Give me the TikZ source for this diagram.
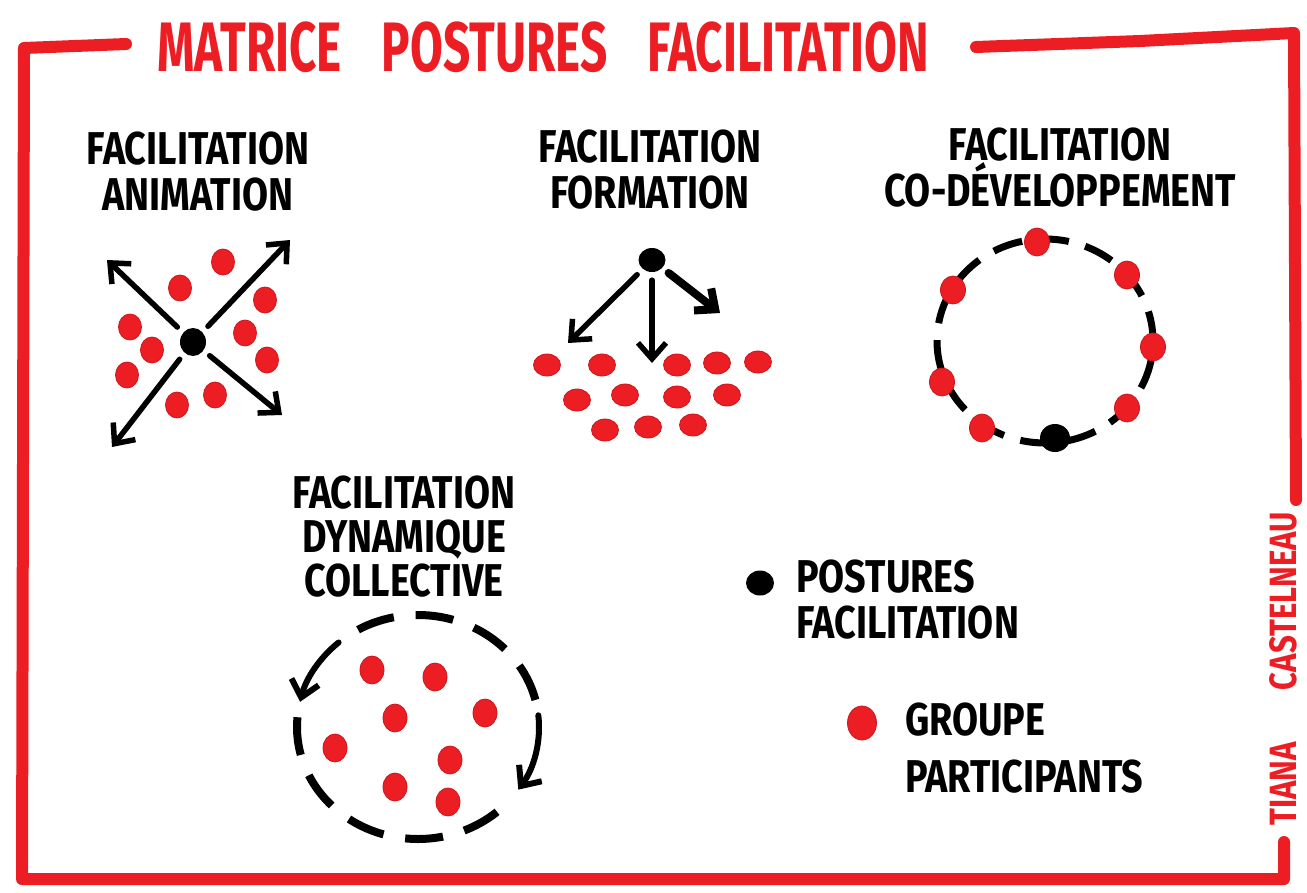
\documentclass[tikz,border=0pt]{standalone}
\usepackage{fontspec}
\usetikzlibrary{arrows.meta,shapes.geometric}

\newfontfamily\handfont{Fira Sans}[FakeStretch=0.82]
\newfontfamily\titlefont{Fira Sans}[FakeStretch=0.68]
\definecolor{marker}{RGB}{236,30,36}

\begin{document}
\begin{tikzpicture}[x=1pt, y=1pt,
		redframe/.style = {draw=marker, line width=12pt, line cap=round, line join=round},
		lbl/.style = {font=\handfont\bfseries\fontsize{46}{46}\selectfont, align=center, inner sep=0pt},
		sig/.style = {font=\handfont\bfseries\fontsize{38}{38}\selectfont, text=marker, inner sep=0pt, rotate=90},
		pst/.style = {ellipse, fill=black, minimum width=26pt, minimum height=28pt, inner sep=0pt},
		grp/.style = {ellipse, fill=marker, draw=marker!85!black, line width=0.8pt, minimum width=23pt, minimum height=26pt, inner sep=0pt},
		arw/.style = {-{Straight Barb[length=16pt, width=28pt]}, line width=5.5pt, line cap=round, shorten <=8pt},
		ring/.style = {line width=7pt, dash pattern=on 30pt off 17pt}
		]
		
		\fill[white] (0,0) rectangle (1307,-892);
		
		%Frame and title
		\draw[redframe]	(126,-44) -- (24,-48) -- (22,-879) -- (1284,-879) -- (1284,-842);
		\draw[redframe]	(976,-47) -- (1140,-41) -- (1294,-33) -- (1296,-500);
		\node[font=\titlefont\bfseries\fontsize{70}{70}\selectfont, text=marker, inner sep=0pt] (title) at (543,-47) {MATRICE\hspace{40pt}POSTURES\hspace{40pt}FACILITATION};
		\node[sig, anchor=west]	(tiana)		at (1283,-826)	{TIANA};
		\node[sig, anchor=east]	(castel)	at (1283,-512)	{CASTELNEAU};
		
		%Labels
		\node[lbl]	(anim)	at (198,-172)	{FACILITATION\\ANIMATION};
		\node[lbl]	(form)	at (650,-170)	{FACILITATION\\FORMATION};
		\node[lbl]	(codev)	at (1060,-168)	{FACILITATION\\CO-DÉVELOPPEMENT};
		\node[lbl, font=\handfont\bfseries\fontsize{46}{44}\selectfont]	(dyn)	at (404,-537)	{FACILITATION\\DYNAMIQUE\\COLLECTIVE};
		
		%Animation
		\node[pst]	(ac)	at (193,-342)	{};
		\coordinate	(at1)	at (107,-260);
		\coordinate	(at2)	at (290,-240);
		\coordinate	(at3)	at (282,-415);
		\coordinate	(at4)	at (112,-447);
		\draw[arw]	(ac) -- (at1);
		\draw[arw]	(ac) -- (at2);
		\draw[arw]	(ac) -- (at3);
		\draw[arw]	(ac) -- (at4);
		\foreach \x/\y [count=\i] in {223/262, 180/288, 265/300, 130/327, 152/350, 245/333, 267/360, 127/375, 215/395, 177/405}
			\node[grp]	(ap\i)	at (\x,-\y)	{};
		
		%Formation
		\node[pst, minimum width=27pt, minimum height=24pt]	(fc)	at (652,-260)	{};
		\coordinate	(ft1)	at (568,-343);
		\coordinate	(ft2)	at (652,-363);
		\coordinate	(ft3)	at (720,-313);
		\draw[arw]	(fc) -- (ft1);
		\draw[arw]	(fc) -- (ft2);
		\draw[arw, line width=8pt]	(fc) -- (ft3);
		\foreach \x/\y [count=\i] in {547/365, 602/365, 677/365, 717/363, 758/362, 577/400, 625/395, 677/397, 727/395, 605/430, 648/427, 693/425}
			\node[grp, minimum width=27pt, minimum height=22pt]	(fp\i)	at (\x,-\y)	{};
		
		%Co-developpement
		\coordinate	(cc)	at (1045,-341);
		\draw[ring]	(cc) ellipse [x radius=108pt, y radius=102pt];
		\foreach \x/\y [count=\i] in {1037/242, 1127/275, 953/290, 1153/347, 942/382, 1127/408, 982/428}
			\node[grp, minimum width=25pt, minimum height=28pt]	(cp\i)	at (\x,-\y)	{};
		\node[pst, minimum width=30pt, minimum height=28pt]	(cf)	at (1055,-438)	{};
		
		%Dynamique collective
		\coordinate	(dc)	at (418,-727);
		\draw[ring, line width=8pt, dash pattern=on 38pt off 22pt]	([shift={(14:121pt and 112pt)}]dc) arc [start angle=14, end angle=124, x radius=121pt, y radius=112pt];
		\draw[ring, line width=8pt, dash pattern=on 38pt off 22pt]	([shift={(175:121pt and 112pt)}]dc) arc [start angle=175, end angle=316, x radius=121pt, y radius=112pt];
		\draw[-{Straight Barb[length=16pt, width=28pt]}, line width=6pt, line cap=round]	([shift={(131:121pt and 112pt)}]dc) arc [start angle=131, end angle=167, x radius=121pt, y radius=112pt];
		\draw[-{Straight Barb[length=16pt, width=28pt]}, line width=6pt, line cap=round]	([shift={(6:121pt and 112pt)}]dc) arc [start angle=6, end angle=-34, x radius=121pt, y radius=112pt];
		\foreach \x/\y [count=\i] in {372/670, 435/677, 395/718, 485/713, 335/748, 450/760, 395/787, 448/802}
			\node[grp, minimum width=24pt, minimum height=28pt]	(dp\i)	at (\x,-\y)	{};
		
		%Legend
		\node[pst, minimum width=28pt, minimum height=25pt]	(kpst)	at (760,-583)	{};
		\node[lbl, align=left, anchor=west]	(kpsttxt)	at (796,-600)	{POSTURES\\FACILITATION};
		\node[grp, minimum width=29pt, minimum height=34pt]	(kgrp)	at (862,-723)	{};
		\node[lbl, align=left, anchor=west]	(kgrptxt)	at (905,-748)	{GROUPE\\[11pt]PARTICIPANTS};
	\end{tikzpicture}
\end{document}
